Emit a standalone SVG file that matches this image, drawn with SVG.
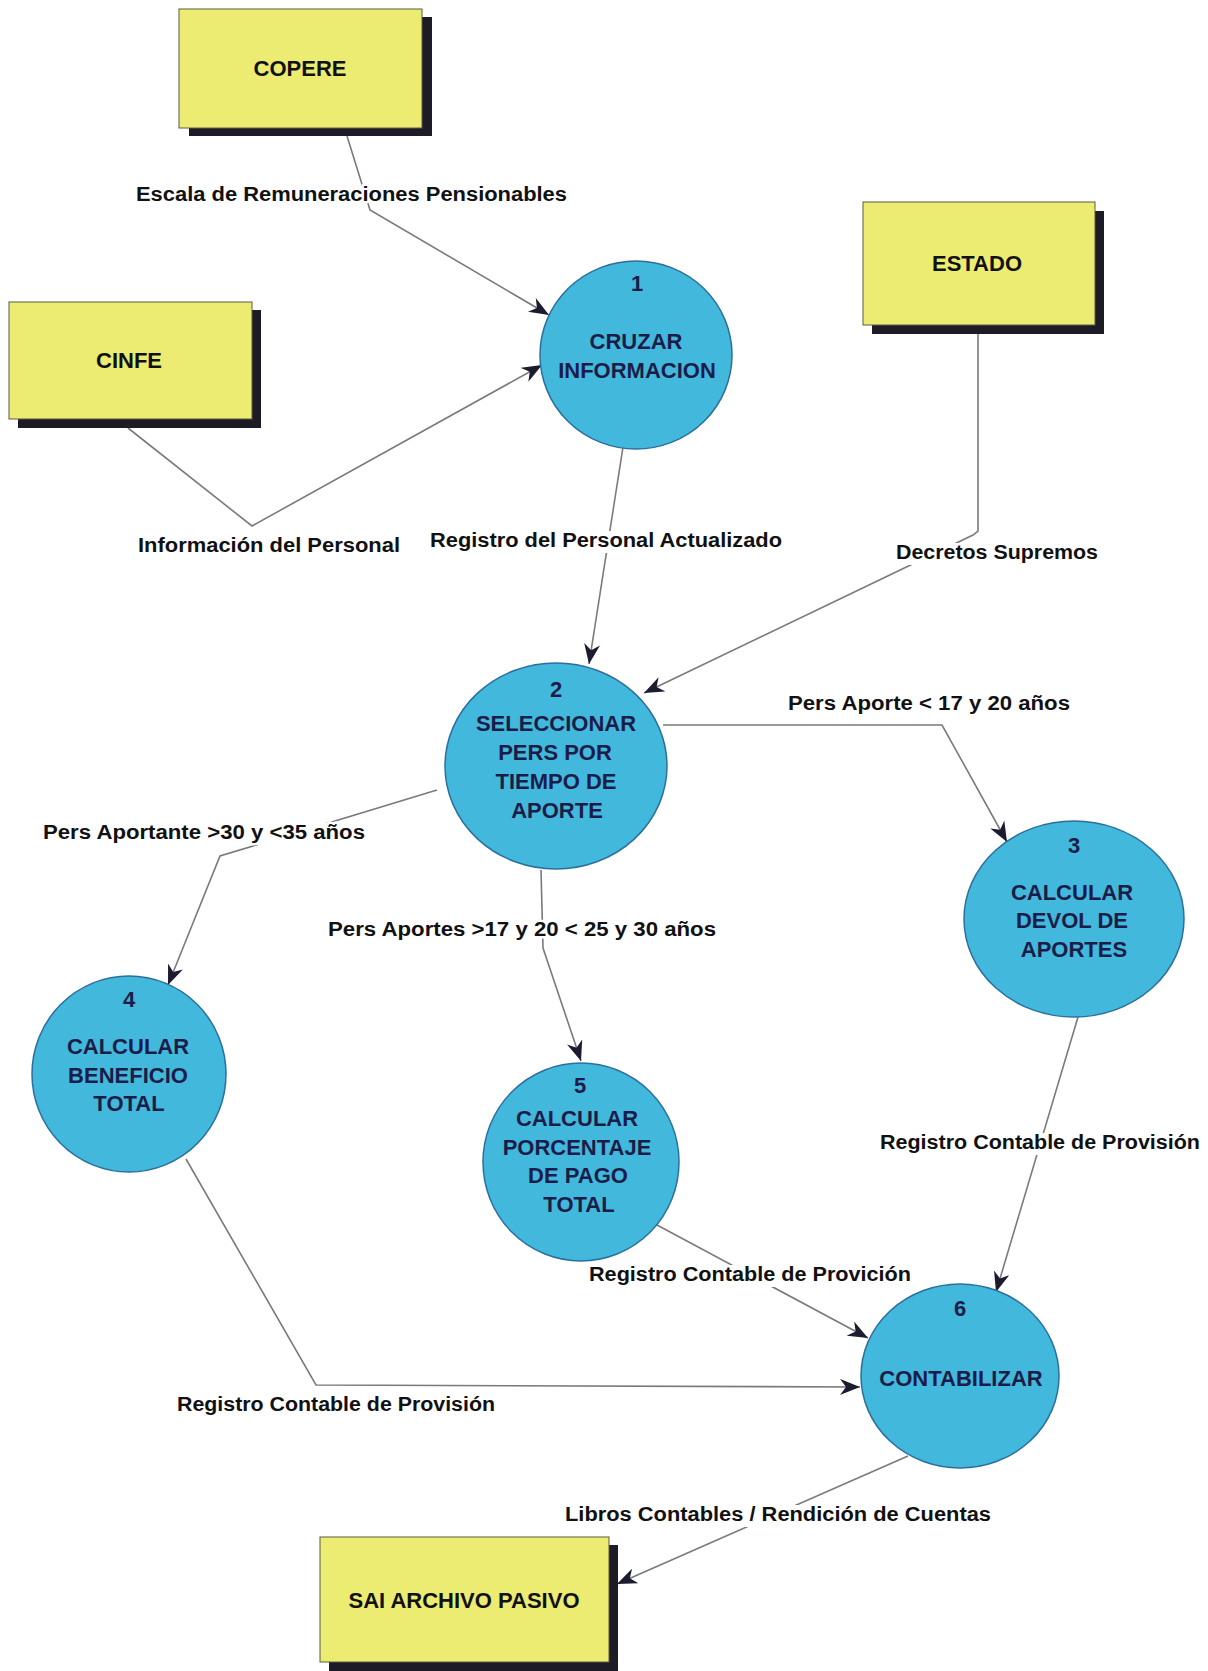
<svg xmlns="http://www.w3.org/2000/svg" width="1208" height="1671" viewBox="0 0 1208 1671">
  <style>
    .shadow { fill: #1c1b26; }
    .face { fill: #ecec72; stroke: #5a5a40; stroke-width: 1; }
    .proc { fill: #41b8dc; stroke: #2c6f9e; stroke-width: 1.5; }
    .bt { font-family: "Liberation Sans", Arial, sans-serif; font-weight: bold; font-size: 22px; fill: #111; text-anchor: middle; }
    .nt { font-family: "Liberation Sans", Arial, sans-serif; font-weight: bold; font-size: 22px; fill: #1b1d48; text-anchor: middle; }
    .lbl { font-family: "Liberation Sans", Arial, sans-serif; font-weight: bold; font-size: 20px; fill: #111;
           paint-order: stroke; stroke: #fff; stroke-width: 5; stroke-linejoin: round; }
    .lblbg { fill: #ffffff; }
    .flow { fill: none; stroke: #7a7a7a; stroke-width: 1.6; marker-end: url(#arr); }
  </style>
  <defs>
    <marker id="arr" markerUnits="userSpaceOnUse" markerWidth="22" markerHeight="16" refX="20" refY="8" orient="auto">
      <path d="M0,0 L20,8 L0,16 L6,8 z" fill="#1c1c30"/>
    </marker>
  </defs>

  <rect width="1208" height="1671" fill="#ffffff"/>

  <!-- data flows -->
  <g id="connectors">
    <path class="flow" d="M347,136 L370,210 L549,315"/>
    <path class="flow" d="M128,428 L252,526 L542,365"/>
    <path class="flow" d="M623,447 L589,664"/>
    <path class="flow" d="M978,334 L978,531 L973,535 L644,693"/>
    <path class="flow" d="M663,725 L942,725 L1007,842"/>
    <path class="flow" d="M437,790 L220,856 L168,985"/>
    <path class="flow" d="M541,870 L543,948 L581,1061"/>
    <path class="flow" d="M657,1225 L868,1338"/>
    <path class="flow" d="M1078,1017 L996,1292"/>
    <path class="flow" d="M186,1159 L316,1385 L860,1387"/>
    <path class="flow" d="M908,1456 L617,1584"/>
  </g>

  <!-- flow labels -->
  <g id="labels">
    <rect class="lblbg" x="136" y="536" width="266" height="22"/>
    <rect class="lblbg" x="428" y="531" width="356" height="22"/>
    <rect class="lblbg" x="894" y="543" width="206" height="22"/>
    <rect class="lblbg" x="786" y="694" width="286" height="22"/>
    <rect class="lblbg" x="41" y="823" width="326" height="22"/>
    <rect class="lblbg" x="878" y="1133" width="324" height="22"/>
    <rect class="lblbg" x="587" y="1265" width="326" height="22"/>
    <rect class="lblbg" x="175" y="1395" width="322" height="22"/>
    <rect class="lblbg" x="563" y="1505" width="430" height="22"/>

    <text class="lbl" x="136" y="201" textLength="431" lengthAdjust="spacingAndGlyphs">Escala de Remuneraciones Pensionables</text>
    <text class="lbl" x="138" y="552" textLength="262" lengthAdjust="spacingAndGlyphs">Información del Personal</text>
    <text class="lbl" x="430" y="547" textLength="352" lengthAdjust="spacingAndGlyphs">Registro del Personal Actualizado</text>
    <text class="lbl" x="896" y="559" textLength="202" lengthAdjust="spacingAndGlyphs">Decretos Supremos</text>
    <text class="lbl" x="788" y="710" textLength="282" lengthAdjust="spacingAndGlyphs">Pers Aporte &lt; 17 y 20 años</text>
    <text class="lbl" x="43" y="839" textLength="322" lengthAdjust="spacingAndGlyphs">Pers Aportante &gt;30 y &lt;35 años</text>
    <text class="lbl" x="328" y="936" textLength="388" lengthAdjust="spacingAndGlyphs">Pers Aportes &gt;17 y 20 &lt; 25 y 30 años</text>
    <text class="lbl" x="880" y="1149" textLength="320" lengthAdjust="spacingAndGlyphs">Registro Contable de Provisión</text>
    <text class="lbl" x="589" y="1281" textLength="322" lengthAdjust="spacingAndGlyphs">Registro Contable de Provición</text>
    <text class="lbl" x="177" y="1411" textLength="318" lengthAdjust="spacingAndGlyphs">Registro Contable de Provisión</text>
    <text class="lbl" x="565" y="1521" textLength="426" lengthAdjust="spacingAndGlyphs">Libros Contables / Rendición de Cuentas</text>
  </g>

  <!-- external entities -->
  <g id="copere">
    <rect class="shadow" x="189" y="17" width="243" height="119"/>
    <rect class="face" x="179" y="9" width="243" height="119"/>
    <text class="bt" x="300" y="76">COPERE</text>
  </g>
  <g id="cinfe">
    <rect class="shadow" x="18" y="310" width="243" height="118"/>
    <rect class="face" x="9" y="302" width="243" height="117"/>
    <text class="bt" x="129" y="368">CINFE</text>
  </g>
  <g id="estado">
    <rect class="shadow" x="872" y="211" width="232" height="123"/>
    <rect class="face" x="863" y="202" width="232" height="123"/>
    <text class="bt" x="977" y="271">ESTADO</text>
  </g>
  <g id="sai">
    <rect class="shadow" x="329" y="1545" width="289" height="130"/>
    <rect class="face" x="320" y="1537" width="289" height="125"/>
    <text class="bt" x="464" y="1608">SAI ARCHIVO PASIVO</text>
  </g>

  <!-- processes -->
  <g id="p1">
    <ellipse class="proc" cx="636" cy="355" rx="96" ry="94"/>
    <text class="nt" x="637" y="291">1</text>
    <text class="nt" x="636" y="349">CRUZAR</text>
    <text class="nt" x="637" y="378">INFORMACION</text>
  </g>
  <g id="p2">
    <ellipse class="proc" cx="556" cy="766" rx="111" ry="103"/>
    <text class="nt" x="556" y="697">2</text>
    <text class="nt" x="556" y="731">SELECCIONAR</text>
    <text class="nt" x="555" y="760">PERS POR</text>
    <text class="nt" x="556" y="789">TIEMPO DE</text>
    <text class="nt" x="557" y="818">APORTE</text>
  </g>
  <g id="p3">
    <ellipse class="proc" cx="1074" cy="919" rx="110" ry="98"/>
    <text class="nt" x="1074" y="853">3</text>
    <text class="nt" x="1072" y="900">CALCULAR</text>
    <text class="nt" x="1072" y="928">DEVOL DE</text>
    <text class="nt" x="1074" y="957">APORTES</text>
  </g>
  <g id="p4">
    <ellipse class="proc" cx="129" cy="1074" rx="97" ry="98"/>
    <text class="nt" x="129" y="1007">4</text>
    <text class="nt" x="128" y="1054">CALCULAR</text>
    <text class="nt" x="128" y="1083">BENEFICIO</text>
    <text class="nt" x="129" y="1111">TOTAL</text>
  </g>
  <g id="p5">
    <ellipse class="proc" cx="581" cy="1162" rx="98" ry="99"/>
    <text class="nt" x="580" y="1093">5</text>
    <text class="nt" x="577" y="1126">CALCULAR</text>
    <text class="nt" x="577" y="1155">PORCENTAJE</text>
    <text class="nt" x="578" y="1183">DE PAGO</text>
    <text class="nt" x="579" y="1212">TOTAL</text>
  </g>
  <g id="p6">
    <ellipse class="proc" cx="960" cy="1376" rx="99" ry="92"/>
    <text class="nt" x="960" y="1316">6</text>
    <text class="nt" x="961" y="1386">CONTABILIZAR</text>
  </g>
</svg>
